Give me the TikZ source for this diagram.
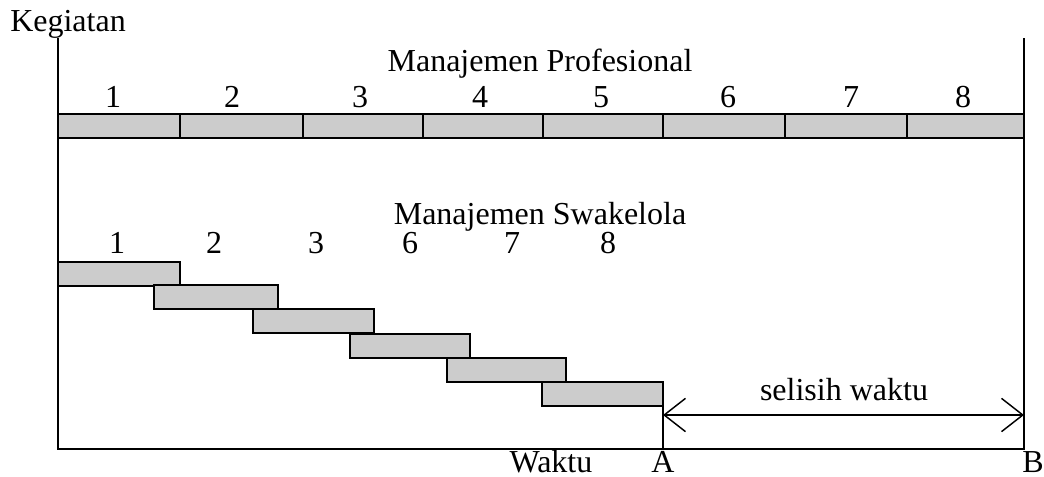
\documentclass[tikz,border=0pt]{standalone}
\usepackage{fontspec}
\setmainfont{Liberation Serif}
\usetikzlibrary{arrows.meta}

\tikzset{
  bar/.style={draw=black,line width=1.6pt,fill=black!20},
  lbl/.style={font=\fontsize{24}{28}\selectfont,inner sep=0pt,anchor=base},
  axis/.style={line width=1.4pt}
}

\begin{document}
\begin{tikzpicture}[x=0.75pt,y=-0.75pt]
\useasboundingbox (0,0) rectangle (1044,477);

% axes and end of the time span
\coordinate (o) at (58,449);
\coordinate (top) at (58,38);
\coordinate (b) at (1024,449);
\coordinate (btop) at (1024,38);
\draw[axis] (top) -- (o) -- (b) -- (btop);
\node[lbl] (keg) at (68,32) {Kegiatan};

% professional management: eight tasks in sequence
\node[lbl] (prof) at (540,72) {Manajemen Profesional};
\foreach \a/\b/\n/\x in {58/180/1/113,180/303/2/232,303/423/3/360,423/543/4/480,
                         543/663/5/601,663/785/6/728,785/907/7/851,907/1024/8/963}{
  \draw[bar] (\a,114) rectangle (\b,138);
  \node[lbl] (p\n) at (\x,108) {\n};
}

% self-managed: tasks shifted in steps
\node[lbl] (swa) at (540,224) {Manajemen Swakelola};
\foreach \a/\b/\t/\n/\x in {58/180/262/1/117,154/278/285/2/214,253/374/309/3/316,
                            350/470/334/6/410,447/566/358/7/512,542/663/382/8/608}{
  \draw[bar] (\a,\t) rectangle (\b,\t+24);
  \node[lbl] (s\n) at (\x,253) {\n};
}

% difference between both finish times
\coordinate (a) at (663,406);
\coordinate (aa) at (663,449);
\draw[axis] (a) -- (aa);
\coordinate (l) at (663,415);
\coordinate (r) at (1024,415);
\draw[line width=1.1pt,{Straight Barb[length=16pt,width=25pt]}-{Straight Barb[length=16pt,width=25pt]}] (l) -- (r);
\node[lbl] (sel) at (844,400) {selisih waktu};

\node[lbl] (wkt) at (551,472) {Waktu};
\node[lbl] (ta) at (663,472) {A};
\node[lbl] (tb) at (1033,472) {B};
\end{tikzpicture}
\end{document}
